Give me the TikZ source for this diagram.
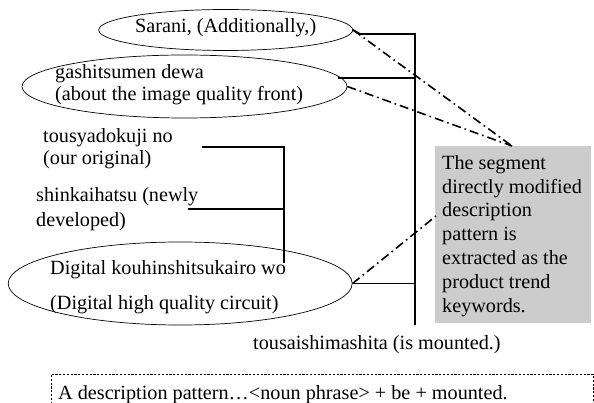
\documentclass[tikz,border=0pt]{standalone}
\usepackage{fontspec}
\setmainfont{Liberation Serif}
\usetikzlibrary{shapes.geometric}
\newcommand{\fs}[1]{\fontsize{20.2}{#1}\selectfont}
\begin{document}
\begin{tikzpicture}[x=1pt,y=-1pt,
  oval/.style={draw, ellipse, line width=0.7pt, inner sep=0pt},
  lbl/.style={anchor=base west, inner sep=0pt, align=left},
  thick line/.style={line width=1.8pt},
  thin line/.style={line width=1.1pt},
  dashdot line/.style={line width=1.6pt, dash pattern=on 9pt off 4pt on 1.6pt off 4pt},
  notebox/.style={fill=black!20, draw=none},
]
\useasboundingbox (0,0) rectangle (594,403);
% ellipses
\node[oval, minimum width=254pt, minimum height=41pt] (e1) at (225.7,30) {};
\node[oval, minimum width=325pt, minimum height=63pt] (e2) at (184.5,86.5) {};
\node[oval, minimum width=344pt, minimum height=83pt] (e3) at (180.2,283.5) {};
% texts (anchor at baseline of last line)
\node[lbl, font=\fs{19}] (t1) at (135,33) {Sarani, (Additionally,)};
\node[lbl, font=\fs{22}] (t2) at (55,101) {gashitsumen dewa\\(about the image quality front)};
\node[lbl, font=\fs{22.5}] (t3) at (43,165) {tousyadokuji no\\(our original)};
\node[lbl, font=\fs{25}] (t4) at (36,227) {shinkaihatsu (newly\\developed)};
\node[lbl, font=\fs{35}] (t5) at (50,309) {Digital kouhinshitsukairo wo\\(Digital high quality circuit)};
\node[lbl, font=\fs{19}] (t6) at (253,349) {tousaishimashita (is mounted.)};
% grey note box
\path[notebox] (435,146) rectangle (591,323);
\node[lbl, font=\fs{23.8}] (note) at (442,312) {The segment\\directly modified\\description\\pattern is\\extracted as the\\product trend\\keywords.};
\coordinate (nw) at (512,146);
\coordinate (nl) at (436,216);
% dashed pattern box
\draw[line width=0.7pt, dash pattern=on 2.2pt off 1.6pt] (593,420) -- (593,374) -- (51,374) -- (51,420);
\node[lbl, font=\fs{19}] (pat) at (58,399) {A description pattern\dots{}<noun phrase> + be + mounted.};
% dependency lines
\coordinate (vt) at (415,34);
\coordinate (vb) at (415,325);
\draw[thick line, line join=miter] (e1.east) -- (360,34) -- (vt) -- (vb);
\draw[thick line] (338,78) -- (415,78);
\draw[thick line] (e3.east) -- (415,283.5);
\coordinate (st) at (284,147);
\draw[thin line] (202,147) -- (st) -- (284,263);
\draw[thick line] (188,209) -- (284,209);
% dash-dot lines
\draw[dashdot line] (e1.east) -- (nw);
\draw[dashdot line] (e2.east) -- (nw);
\draw[dashdot line] (e3.east) -- (nl);
\end{tikzpicture}
\end{document}
